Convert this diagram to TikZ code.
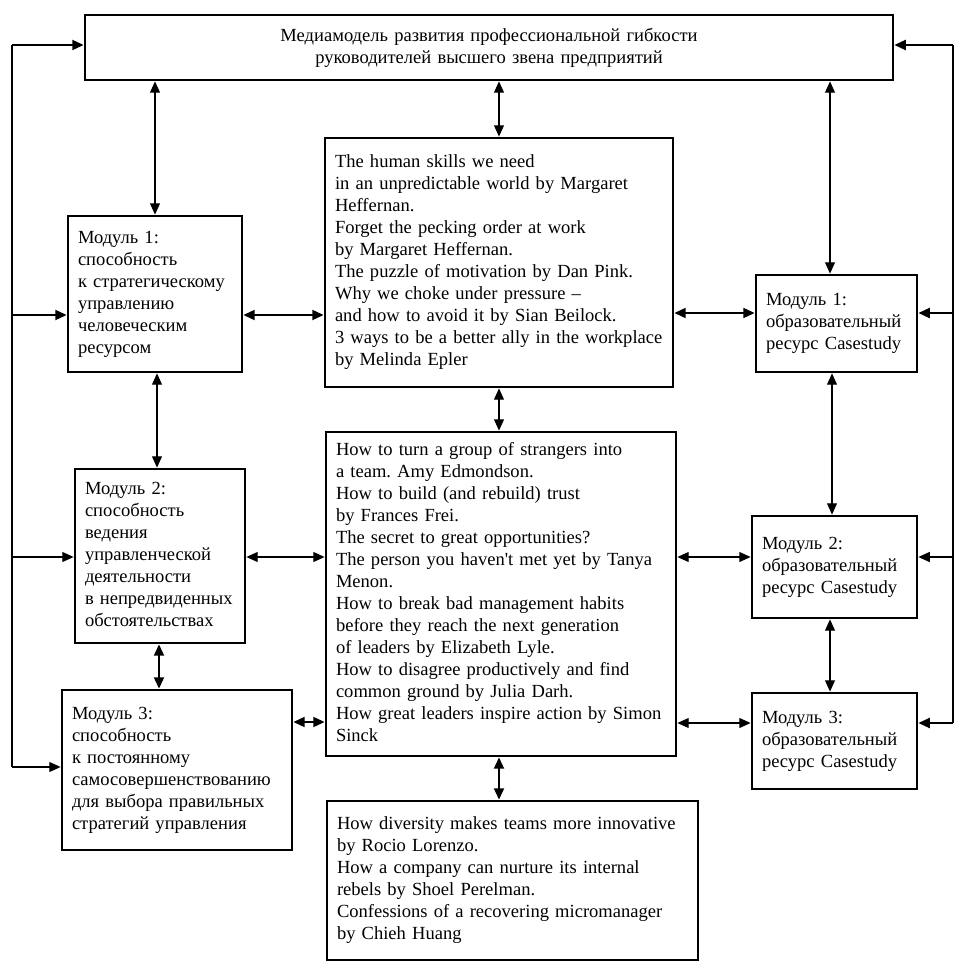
\documentclass[tikz,border=0pt]{standalone}
\usepackage{fontspec}
\setmainfont{Liberation Serif}
\newfontfamily\nolig{Liberation Serif}
\usetikzlibrary{arrows.meta}
\frenchspacing
\newcommand\rows[1]{\begin{tabular}{@{}l@{}}#1\end{tabular}}
\begin{document}
\begin{tikzpicture}[x=0.75pt,y=-0.75pt,
  box/.style={draw, line width=2.1pt, align=left, inner xsep=7.5pt, inner ysep=0pt,
    font=\fontsize{13.9}{16.5}\selectfont},
  tip/.tip={Triangle[length=8.5pt,width=7.5pt]},
  thinl/.style={line width=0.8pt},
  thickl/.style={line width=1.5pt},
  dbl/.style={tip-tip},
  one/.style={-tip}]
\useasboundingbox (0,0) rectangle (963,969);

\node[box, align=center, minimum width=606pt, minimum height=48.75pt, text width=591pt] (top) at (489,47.5)
  {Медиамодель развития профессиональной гибкости\\руководителей высшего звена предприятий};

\node[box, minimum width=130.5pt, minimum height=117pt, text width=115.5pt] (L1) at (155,294)
  {\rows{Модуль 1:\\способность\\к стратегическому\\управлению\\человеческим\\ресурсом}};
\node[box, minimum width=127.5pt, minimum height=130.5pt, text width=112.5pt] (L2) at (160,556)
  {\rows{Модуль 2:\\способность\\ведения\\управленческой\\деятельности\\в непредвиденных\\обстоятельствах}};
\node[box, minimum width=172.5pt, minimum height=120pt, text width=157.5pt] (L3) at (177,770)
  {\rows{Модуль 3:\\способность\\к постоянному\\самосовершенствованию\\для выбора правильных\\стратегий управления}};

\node[box, minimum width=261pt, minimum height=186.75pt, text width=246pt] (C1) at (499,262.5)
  {\rows{The human skills we need\\in an unpredictable world by Margaret\\Heffernan.\\Forget the pecking order at work\\by Margaret Heffernan.\\The puzzle of motivation by Dan Pink.\\Why we choke under pressure –\\and how to avoid it by Sian Beilock.\\3 ways to be a better ally in the workplace\\by Melinda Epler}};
\node[box, minimum width=262.5pt, minimum height=243pt, text width=247.5pt] (C2) at (501,594)
  {\rows{How to turn a group of strangers into\\a team. Amy Edmondson.\\How to build (and rebuild) trust\\by Frances Frei.\\The secret to great opportunities?\\The person you haven{\nolig '}t met yet by Tanya\\Menon.\\How to break bad management habits\\before they reach the next generation\\of leaders by Elizabeth Lyle.\\How to disagree productively and find\\common ground by Julia Darh.\\How great leaders inspire action by Simon\\Sinck}};
\node[box, minimum width=278.25pt, minimum height=119.25pt, text width=263.25pt] (C3) at (512.5,880.5)
  {\rows{How diversity makes teams more innovative\\by Rocio Lorenzo.\\How a company can nurture its internal\\rebels by Shoel Perelman.\\Confessions of a recovering micromanager\\by Chieh Huang}};

\node[box, minimum width=120.75pt, minimum height=72.75pt, text width=105.75pt] (R1) at (836.5,323.5)
  {\rows{Модуль 1:\\образовательный\\ресурс Casestudy}};
\node[box, minimum width=123.75pt, minimum height=76.5pt, text width=108.75pt] (R2) at (834.5,567)
  {\rows{Модуль 2:\\образовательный\\ресурс Casestudy}};
\node[box, minimum width=123.75pt, minimum height=72pt, text width=108.75pt] (R3) at (834.5,741)
  {\rows{Модуль 3:\\образовательный\\ресурс Casestudy}};

% inner connectors
\draw[dbl, thinl] (top.south -| L1.north) -- (L1.north);
\draw[dbl, thinl] (top.south -| C1.north) -- (C1.north);
\draw[dbl, thinl] (top.south -| 830,0) -- (830,0 |- R1.north);
\draw[dbl, thickl] (L1.east |- 0,315) -- (C1.west |- 0,315);
\draw[dbl, thinl] (157,0 |- L1.south) -- (157,0 |- L2.north);
\draw[dbl, thickl] (159,0 |- L2.south) -- (159,0 |- L3.north);
\draw[dbl, thinl] (L2.east |- 0,557) -- (C2.west |- 0,557);
\draw[dbl, thickl] (L3.east |- 0,722) -- (C2.west |- 0,722);
\draw[dbl, thinl] (499,0 |- C1.south) -- (499,0 |- C2.north);
\draw[dbl, thickl] (499,0 |- C2.south) -- (499,0 |- C3.north);
\draw[dbl, thickl] (C1.east |- 0,313) -- (R1.west |- 0,313);
\draw[dbl, thinl] (C2.east |- 0,557) -- (R2.west |- 0,557);
\draw[dbl, thinl] (C2.east |- 0,723) -- (R3.west |- 0,723);
\draw[dbl, thinl] (832,0 |- R1.south) -- (832,0 |- R2.north);
\draw[dbl, thinl] (830,0 |- R2.south) -- (830,0 |- R3.north);

% feedback loops
\coordinate (LT) at (12,45);
\coordinate (LB) at (12,767);
\coordinate (RT) at (953,45);
\coordinate (RB) at (953,723);
\draw[thinl] (LT) -- (LB);
\draw[thinl] (RT) -- (RB);
\draw[one, thickl] (LT) -- (LT -| top.west);
\draw[one, thickl] (LT |- 0,315) -- (L1.west |- 0,315);
\draw[one, thinl] (LT |- 0,557) -- (L2.west |- 0,557);
\draw[one, thinl] (LB) -- (LB -| L3.west);
\draw[one, thickl] (RT) -- (RT -| top.east);
\draw[one, thickl] (RT |- 0,313) -- (R1.east |- 0,313);
\draw[one, thinl] (RT |- 0,557) -- (R2.east |- 0,557);
\draw[one, thickl] (RB) -- (RB -| R3.east);
\end{tikzpicture}
\end{document}
